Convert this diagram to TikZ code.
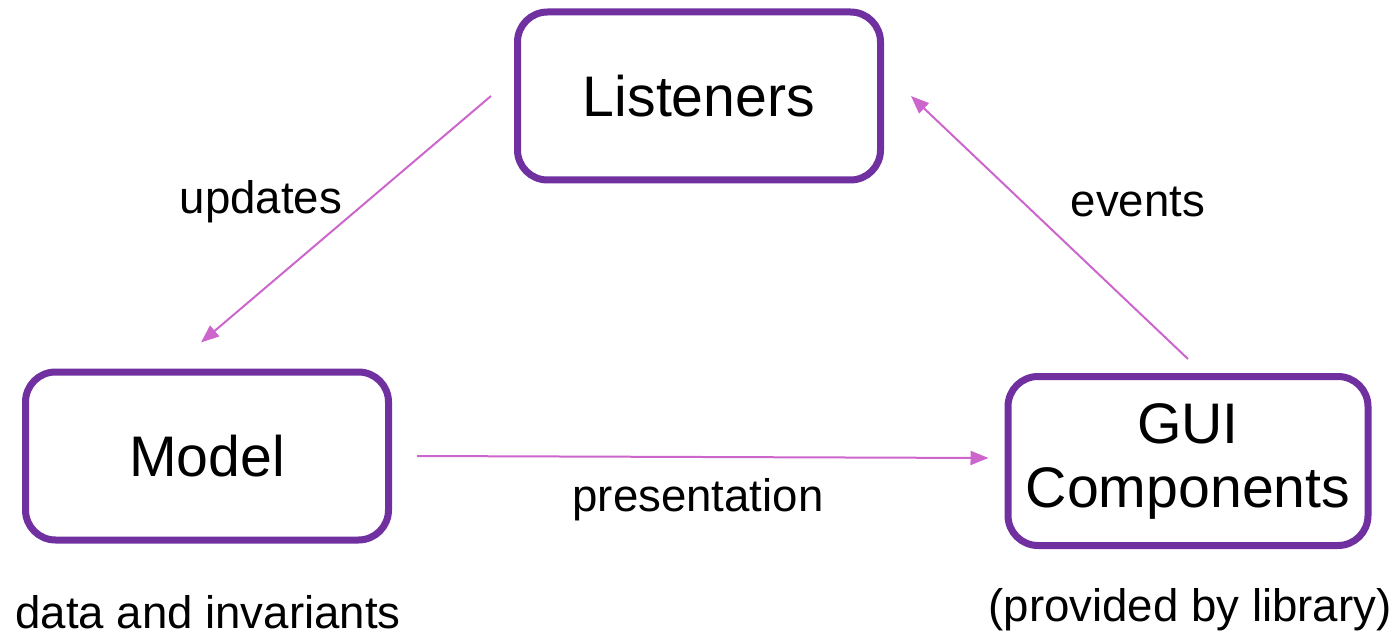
\documentclass[tikz,border=0pt]{standalone}
\usepackage{fontspec}
\setmainfont{Liberation Sans}
\usetikzlibrary{arrows.meta}

\definecolor{boxpurple}{RGB}{112,48,160}
\definecolor{arrowpink}{RGB}{204,102,204}

\begin{document}
\begin{tikzpicture}[x=0.5pt,y=-0.5pt,
  part/.style={draw=boxpurple,line width=3.5pt,rounded corners=15pt,fill=white,
    align=center,font=\fontsize{28.6}{32}\selectfont,inner sep=0pt},
  flow/.style={draw=arrowpink,line width=1pt,-{Triangle[length=9pt,width=7pt]}},
  note/.style={font=\fontsize{22.8}{26}\selectfont,inner sep=0pt}]

\useasboundingbox (0,0) rectangle (1397,636);

\def\w{363}; \def\h{168};

\node[part,minimum width=\w*0.5pt,minimum height=\h*0.5pt] (listeners) at (699,96) {Listeners};
\node[part,minimum width=\w*0.5pt,minimum height=\h*0.5pt] (model) at (207,456) {Model};
\node[part,minimum width=360*0.5pt,minimum height=169*0.5pt] (gui) at (1188,461) {GUI\\Components};

\draw[flow] ([xshift=-11.5pt]listeners.west) -- ([xshift=-3pt,yshift=13pt]model.north);
\draw[flow] ([yshift=7pt]gui.north) -- ([xshift=13.5pt]listeners.east);
\draw[flow] ([xshift=12.5pt]model.east) -- ([xshift=-8pt,yshift=1.5pt]gui.west);

\node[note] (updates) at (261,202) {updates};
\node[note] (events) at (1138,202) {events};
\node[note] (presentation) at (698,500) {presentation};
\node[note] (data) at (208,612) {data and invariants};
\node[note] (library) at (1190,610) {(provided by library)};

\end{tikzpicture}
\end{document}
